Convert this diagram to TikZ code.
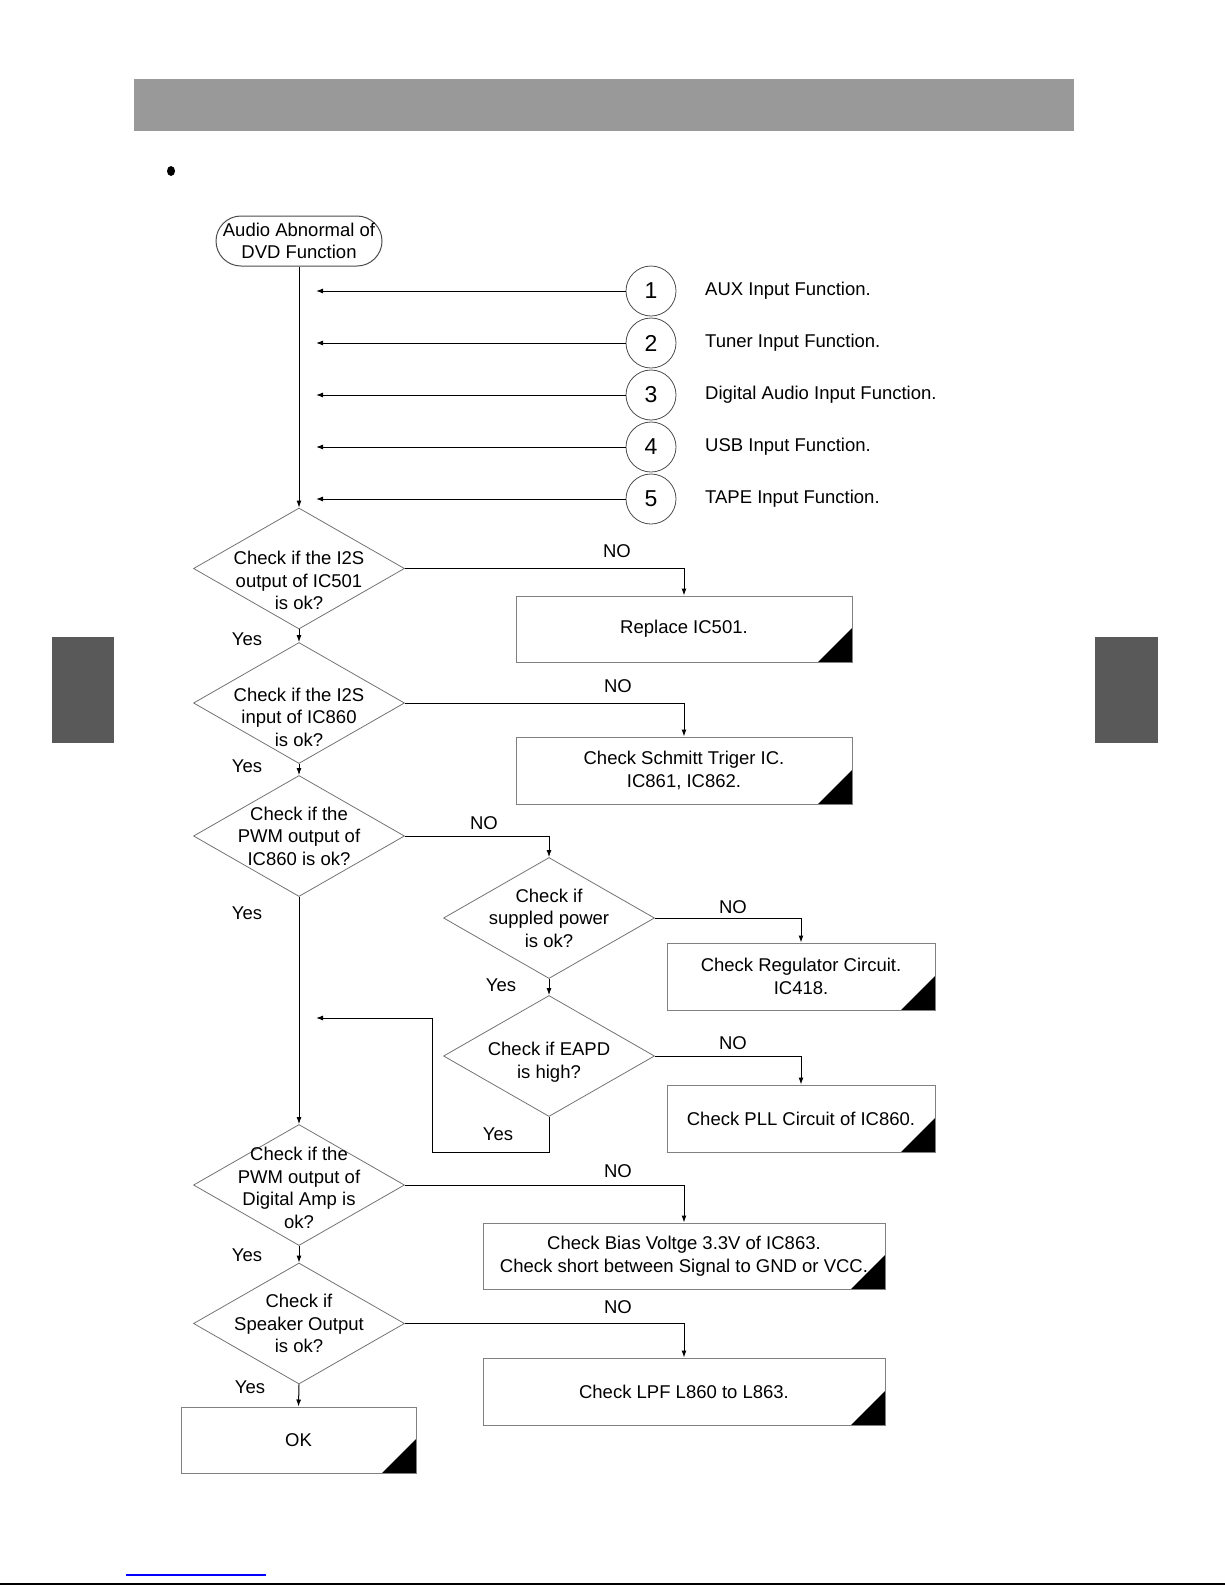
\documentclass[tikz,border=0pt]{standalone}
\usepackage{fontspec}
\setmainfont{Liberation Sans}
\usetikzlibrary{shapes.geometric,arrows.meta}

\begin{document}
\begin{tikzpicture}[x=1pt,y=-1pt,
                txt/.style={font=\fontsize{18.5}{22.5}\selectfont,align=center,inner sep=0pt},
                start/.style={txt,draw=black!70,line width=1pt,rounded corners=25pt,minimum width=166pt,minimum height=50pt},
                dia/.style={diamond,draw=black!55,line width=0.8pt,minimum width=211pt,minimum height=121pt,inner sep=0pt},
                numc/.style={circle,draw=black!70,line width=0.8pt,minimum size=50pt,inner sep=0pt,font=\fontsize{23}{23}\selectfont},
                endbox/.style={txt,draw=black!50,line width=1pt,minimum height=66pt,
                    path picture={\fill[black] (path picture bounding box.south east) -- ++(-34pt,0pt) -- ++(34pt,34pt) -- cycle;}},
                flow/.style={line width=1pt,-{Latex[length=7pt,width=5pt]}}]
                \useasboundingbox (0,0) rectangle (1225,1585);
                % page decoration
                \fill[black!40] (134,79) rectangle (1074,131);
                \fill (171,171) ellipse (4pt and 5pt);
                \fill[black!65] (52,637) rectangle (114,743);
                \fill[black!65] (1095,637) rectangle (1158,743);
                \draw[blue,line width=1.5pt] (126,1575) -- (266,1575);
                \draw[black,line width=1.5pt] (0,1584) -- (1225,1584);
                % start
                \node[start] (st) at (299,241) {Audio Abnormal of\\DVD Function};
                % inputs
                \node[numc] (c1) at (651,291) {1};
                \node[numc] (c2) at (651,343) {2};
                \node[numc] (c3) at (651,395) {3};
                \node[numc] (c4) at (651,447) {4};
                \node[numc] (c5) at (651,499) {5};
                \node[txt,anchor=west] (l1) at (705,291) {AUX Input Function.};
                \node[txt,anchor=west] (l2) at (705,343) {Tuner Input Function.};
                \node[txt,anchor=west] (l3) at (705,395) {Digital Audio Input Function.};
                \node[txt,anchor=west] (l4) at (705,447) {USB Input Function.};
                \node[txt,anchor=west] (l5) at (705,499) {TAPE Input Function.};
                \coordinate (a1) at (316,291);
                \coordinate (a2) at (316,343);
                \coordinate (a3) at (316,395);
                \coordinate (a4) at (316,447);
                \coordinate (a5) at (316,499);
                \draw[flow] (c1) -- (a1);
                \draw[flow] (c2) -- (a2);
                \draw[flow] (c3) -- (a3);
                \draw[flow] (c4) -- (a4);
                \draw[flow] (c5) -- (a5);
                % checks
                \node[dia,label={[txt,yshift=-12pt]center:Check if the I2S\\output of IC501\\is ok?}] (d1) at (299,568.5) {};
                \node[dia,label={[txt,yshift=-14pt]center:Check if the I2S\\input of IC860\\is ok?}] (d2) at (299,703) {};
                \node[dia,label={[txt]center:Check if the\\PWM output of\\IC860 is ok?}] (d3) at (299,836) {};
                \node[dia,label={[txt]center:Check if\\suppled power\\is ok?}] (d4) at (549,918) {};
                \node[dia,label={[txt,yshift=-6pt]center:Check if EAPD\\is high?}] (d5) at (549,1056) {};
                \node[dia,label={[txt,yshift=-3pt]center:Check if the\\PWM output of\\Digital Amp is\\ok?}] (d6) at (299,1185) {};
                \node[dia,label={[txt]center:Check if\\Speaker Output\\is ok?}] (d7) at (299,1323.5) {};
                % results
                \node[endbox,minimum width=336pt] (b1) at (684,629) {Replace IC501.};
                \node[endbox,minimum width=336pt,minimum height=67pt] (b2) at (684,770.5) {Check Schmitt Triger IC.\\IC861, IC862.};
                \node[endbox,minimum width=268pt,minimum height=67pt] (b3) at (801,976.5) {Check Regulator Circuit.\\IC418.};
                \node[endbox,minimum width=268pt,minimum height=67pt] (b4) at (801,1118.5) {Check PLL Circuit of IC860.};
                \node[endbox,minimum width=402pt] (b5) at (684,1256) {Check Bias Voltge 3.3V of IC863.\\Check short between Signal to GND or VCC.};
                \node[endbox,minimum width=402pt,minimum height=67pt] (b6) at (684,1391.5) {Check LPF L860 to L863.};
                \node[endbox,minimum width=235pt] (b7) at (298.5,1440) {OK};
                % yes paths
                \draw[flow] (st.south) -- (d1.north);
                \draw[flow] (d1.south) -- (d2.north);
                \draw[flow] (d2.south) -- (d3.north);
                \draw[flow] (d3.south) -- (d6.north);
                \draw[flow] (d4.south) -- (d5.north);
                \draw[flow] (d6.south) -- (d7.north);
                \draw[flow] (d7.south) -- (b7.north);
                \coordinate (r1) at (432,1152);
                \coordinate (r2) at (316,1018);
                \draw[flow] (d5.south) |- (r1) |- (r2);
                % no paths
                \draw[flow] (d1.east) -| (b1.north);
                \draw[flow] (d2.east) -| (b2.north);
                \draw[flow] (d3.east) -| (d4.north);
                \draw[flow] (d4.east) -| (b3.north);
                \draw[flow] (d5.east) -| (b4.north);
                \draw[flow] (d6.east) -| (b5.north);
                \draw[flow] (d7.east) -| (b6.north);
                % labels
                \node[txt] (n1) at (617,551) {NO};
                \node[txt] (n2) at (618,686) {NO};
                \node[txt] (n3) at (484,823) {NO};
                \node[txt] (n4) at (733,907) {NO};
                \node[txt] (n5) at (733,1043) {NO};
                \node[txt] (n6) at (618,1171) {NO};
                \node[txt] (n7) at (618,1307) {NO};
                \node[txt] (y1) at (247,639) {Yes};
                \node[txt] (y2) at (247,766) {Yes};
                \node[txt] (y3) at (247,913) {Yes};
                \node[txt] (y4) at (501,985) {Yes};
                \node[txt] (y5) at (498,1134) {Yes};
                \node[txt] (y6) at (247,1255) {Yes};
                \node[txt] (y7) at (250,1387) {Yes};
            \end{tikzpicture}
\end{document}
